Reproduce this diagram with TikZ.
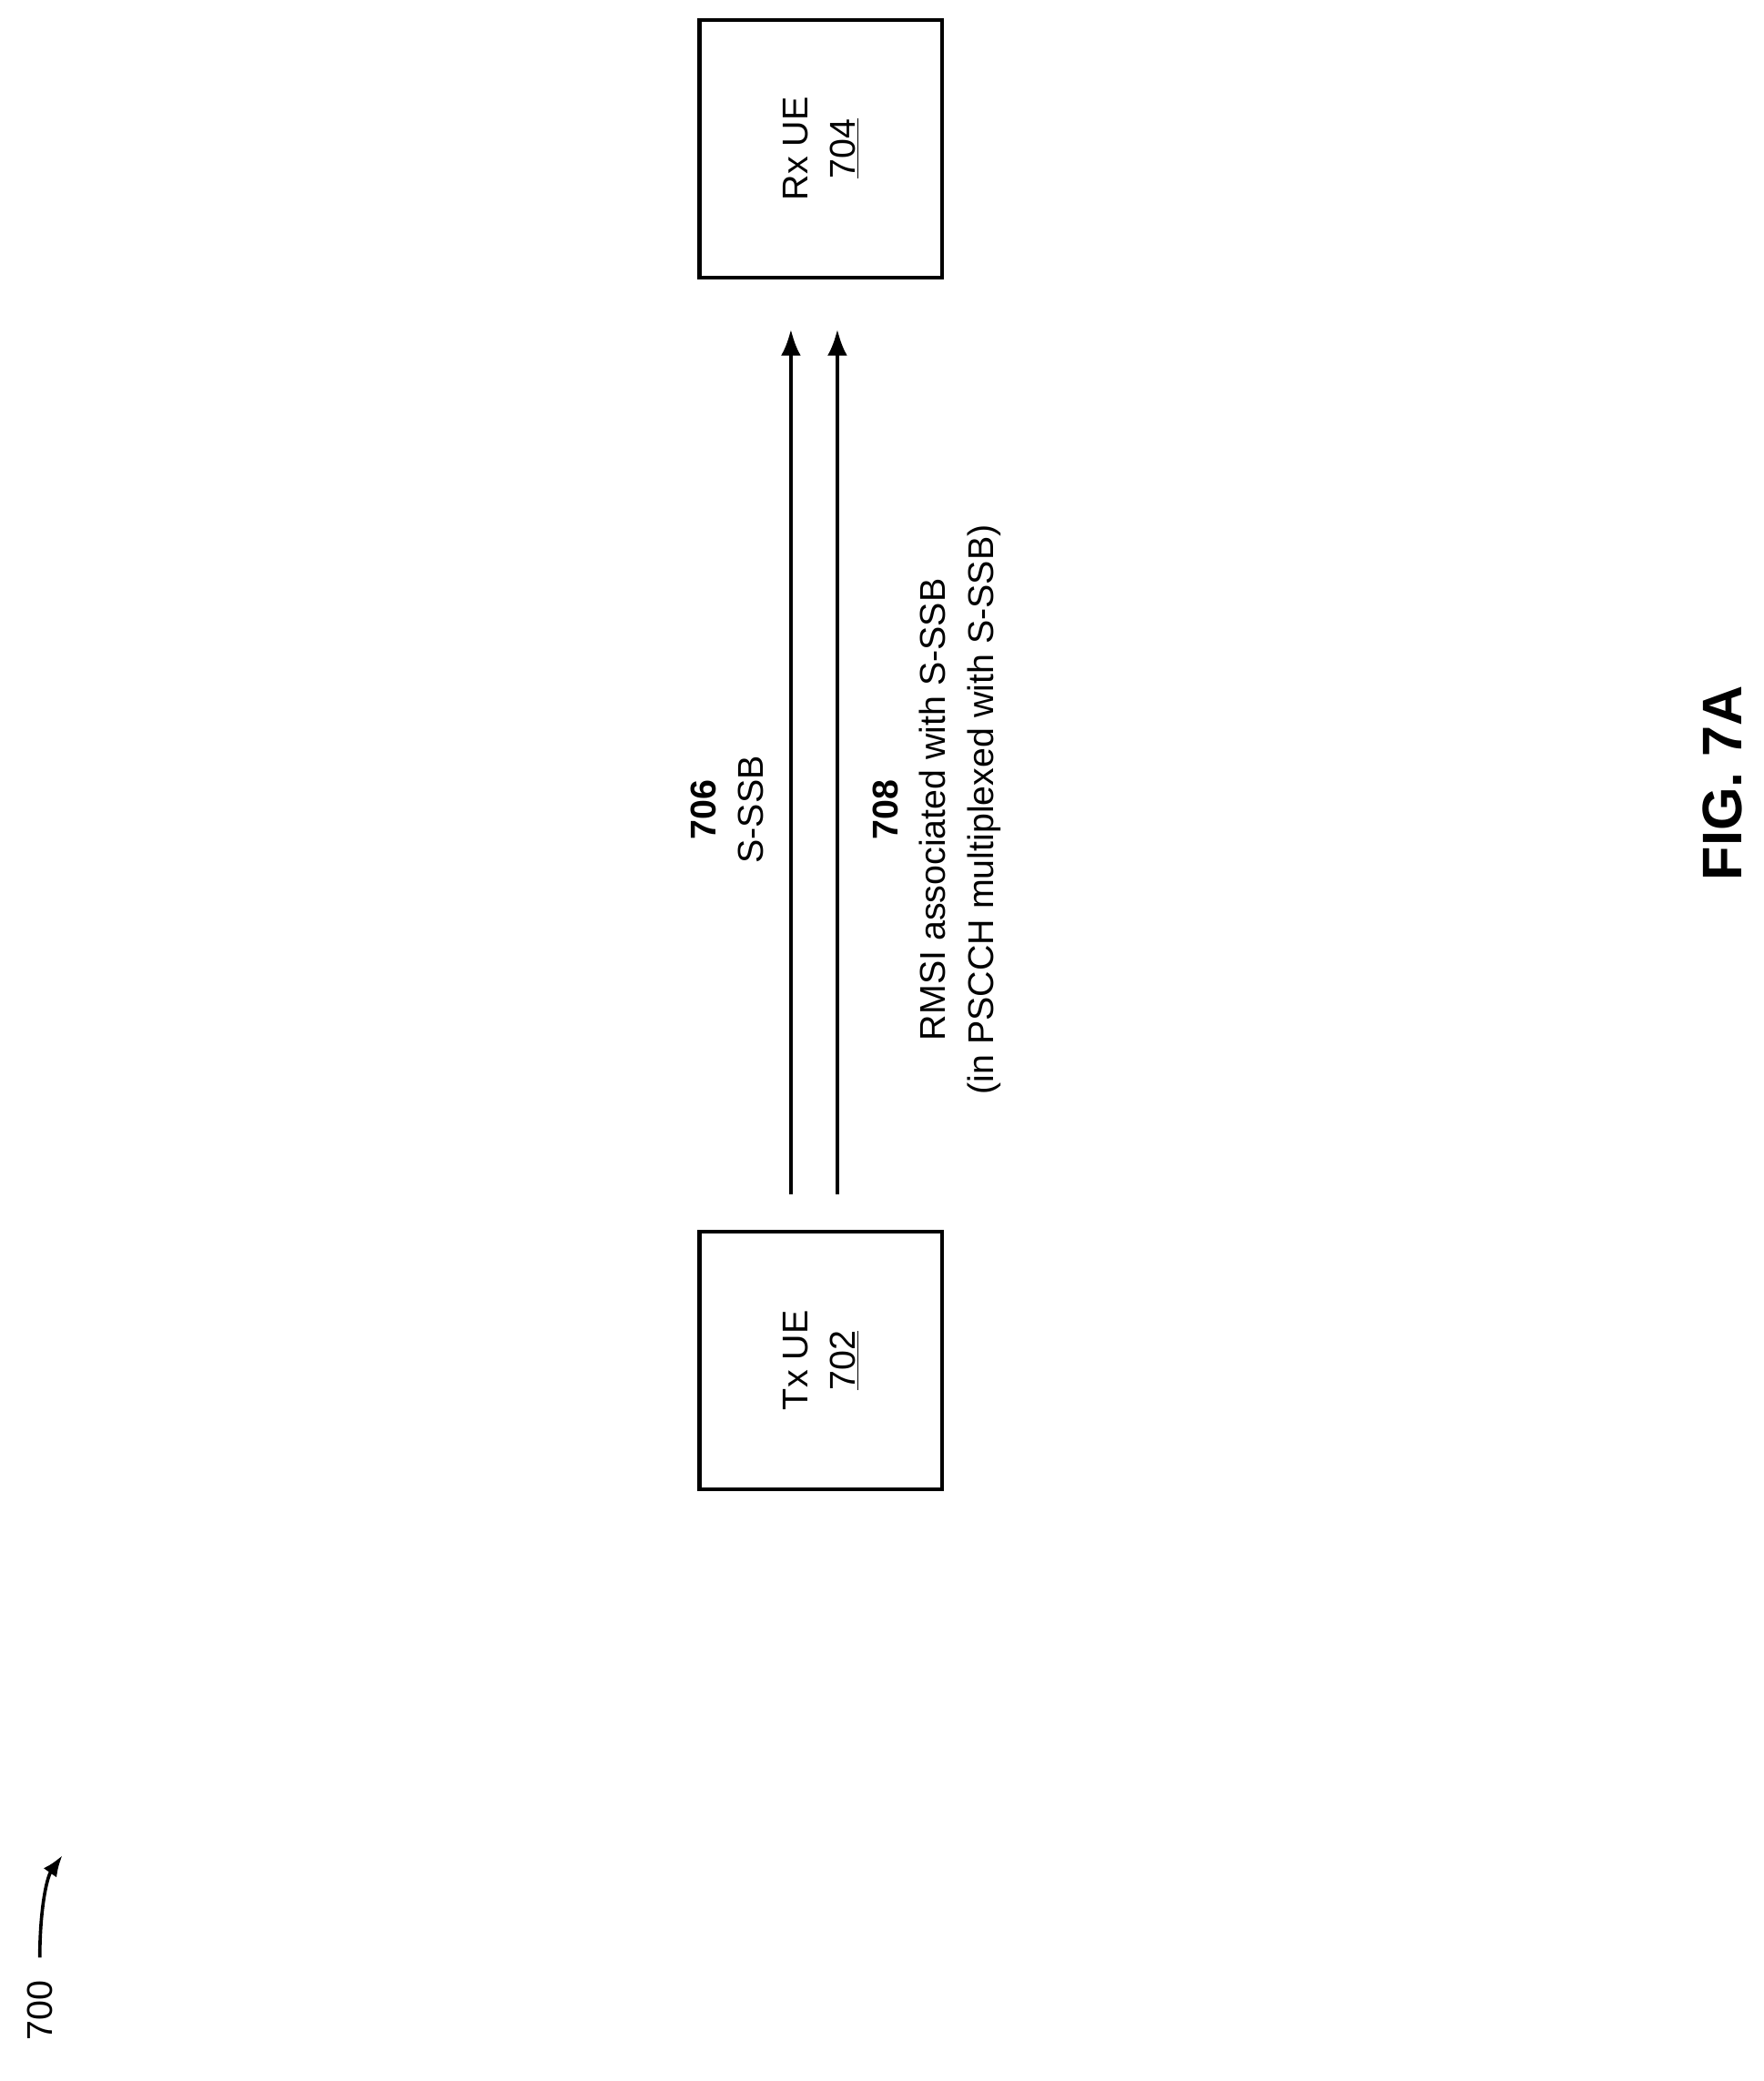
\documentclass[tikz,border=0pt]{standalone}
\usepackage{fontspec}
\setmainfont{Liberation Sans}
\usetikzlibrary{arrows.meta}
\begin{document}
\begin{tikzpicture}[x=1pt,y=-1pt,
 box/.style={draw,line width=3pt,minimum width=183pt,minimum height=194pt,inner sep=0},
 lbl/.style={rotate=90,align=center,font=\fontsize{27}{36}\selectfont},
 arr/.style={line width=3pt,-{Latex[length=20pt,width=15pt]}}]
\useasboundingbox (0,0) rectangle (1329,1568);
\node[box] (tx) at (618.5,1025) {};
\node[lbl] at (tx.center) {Tx UE\\\underline{702}};
\node[box] (rx) at (618.5,112) {};
\node[lbl] at (rx.center) {Rx UE\\\underline{704}};
\coordinate (a1) at (596,900); \coordinate (b1) at (596,248);
\coordinate (a2) at (631,900); \coordinate (b2) at (631,248);
\draw[arr] (a1) -- (b1);
\draw[arr] (a2) -- (b2);
\node[lbl] (l706) at (548,610) {\textbf{706}\\S-SSB};
\node[lbl] (l708) at (706,610) {\textbf{708}\\RMSI associated with S-SSB\\(in PSCCH multiplexed with S-SSB)};
\node[rotate=90,font=\fontsize{42}{50}\selectfont\bfseries] (fig) at (1298,590) {FIG. 7A};
\node[rotate=90,font=\fontsize{27}{32}\selectfont] (n700) at (30,1515) {700};
\coordinate (c1) at (30,1475); \coordinate (c2) at (47,1398);
\draw[line width=2.5pt,-{Latex[length=16pt,width=12pt]}] (c1) .. controls (30,1440) and (35,1415) .. (c2);
\end{tikzpicture}
\end{document}
